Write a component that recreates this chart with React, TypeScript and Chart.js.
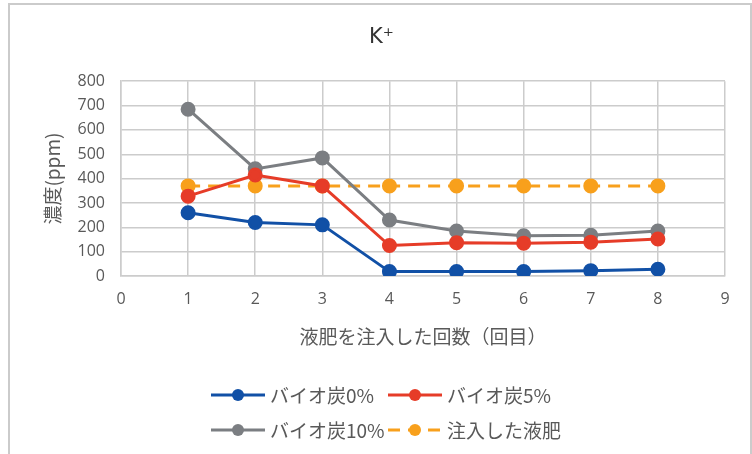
import React, { useEffect, useRef } from "react";
import { Chart, registerables } from "chart.js";

Chart.register(...registerables);

const xValues = [1, 2, 3, 4, 5, 6, 7, 8];
const biochar0 = [260, 220, 210, 18, 18, 18, 22, 28];
const biochar5 = [328, 415, 370, 125, 137, 135, 139, 152];
const biochar10 = [685, 440, 485, 230, 185, 165, 167, 185];
const injected = [370, 370, 370, 370, 370, 370, 370, 370];
const seriesNames = ["バイオ炭0%", "バイオ炭5%", "バイオ炭10%", "注入した液肥"];
const seriesColors = ["#1150a6", "#e63c28", "#7b7e82", "#f8a01c"];
const titleText = "K⁺";
const xTitle = "液肥を注入した回数（回目）";
const yTitle = "濃度(ppm)";

const CJK = "'Noto Sans CJK JP', 'Noto Sans', sans-serif";
const NUM = "'Open Sans', 'Noto Sans', sans-serif";

const toPoints = (ys: number[]) => ys.map((y, i) => ({ x: xValues[i], y }));

const framePlugin = {
  id: "frame",
  beforeDraw(chart: any) {
    const ctx = chart.ctx;
    ctx.save();
    ctx.fillStyle = "#ffffff";
    ctx.fillRect(0, 0, chart.width, chart.height);
    ctx.strokeStyle = "#cbcbcb";
    ctx.lineWidth = 2;
    ctx.strokeRect(9, 4, chart.width - 10, chart.height + 10);
    ctx.restore();
  },
};

const legendPlugin = {
  id: "customLegend",
  afterDraw(chart: any) {
    const ctx = chart.ctx;
    const cols = [211, 388];
    const rows = [395, 430];
    ctx.save();
    chart.data.datasets.forEach((ds: any, i: number) => {
      const x = cols[i % 2];
      const y = rows[Math.floor(i / 2)];
      const len = 54;
      ctx.strokeStyle = ds.borderColor;
      ctx.lineWidth = 3;
      ctx.setLineDash(ds.borderDash || []);
      ctx.beginPath();
      ctx.moveTo(x, y);
      ctx.lineTo(x + len, y);
      ctx.stroke();
      ctx.setLineDash([]);
      ctx.fillStyle = ds.backgroundColor;
      ctx.beginPath();
      ctx.arc(x + len / 2, y, 6, 0, Math.PI * 2);
      ctx.fill();
      ctx.fillStyle = "#595959";
      ctx.font = `19px ${CJK}`;
      ctx.textBaseline = "middle";
      ctx.textAlign = "left";
      ctx.fillText(ds.label, x + 59, y + 1);
    });
    ctx.restore();
  },
};

export default function App() {
  const ref = useRef<HTMLCanvasElement>(null);
  useEffect(() => {
    if (!ref.current) return;
    const mk = (i: number, ys: number[], dash?: number[]) => ({
      label: seriesNames[i],
      data: toPoints(ys),
      borderColor: seriesColors[i],
      backgroundColor: seriesColors[i],
      pointBackgroundColor: seriesColors[i],
      pointBorderColor: seriesColors[i],
      pointRadius: 6,
      borderWidth: 3,
      borderDash: dash,
      tension: 0,
      fill: false,
    });
    const chart = new Chart(ref.current, {
      type: "line",
      data: {
        datasets: [
          mk(0, biochar0),
          mk(1, biochar5),
          mk(2, biochar10),
          mk(3, injected, [12, 8]),
        ] as any,
      },
      options: {
        responsive: false,
        animation: false,
        devicePixelRatio: 1,
        layout: { padding: { left: 38, right: 27, top: 0, bottom: 100 } },
        plugins: {
          legend: { display: false },
          tooltip: { enabled: false },
          title: {
            display: true,
            text: titleText,
            color: "#333333",
            font: { family: "'DejaVu Sans', sans-serif", size: 21, weight: "normal" },
            padding: { top: 25, bottom: 31 },
          },
        },
        scales: {
          x: {
            type: "linear",
            min: 0,
            max: 9,
            ticks: {
              stepSize: 1,
              color: "#595959",
              font: { family: NUM, size: 16 },
              padding: 14,
            },
            grid: { color: "#cccccc", lineWidth: 1.5, drawTicks: false },
            border: { color: "#cccccc", width: 1.5 },
            title: {
              display: true,
              text: xTitle,
              color: "#595959",
              font: { family: CJK, size: 19 },
              padding: { top: 0, bottom: 6 },
            },
            afterFit: (s: any) => {
              s.height = 78;
            },
          },
          y: {
            min: 0,
            max: 800,
            ticks: {
              stepSize: 100,
              color: "#595959",
              font: { family: NUM, size: 16 },
              padding: 16,
            },
            grid: { color: "#cccccc", lineWidth: 1.5, drawTicks: false },
            border: { color: "#cccccc", width: 1.5 },
            title: {
              display: true,
              text: yTitle,
              color: "#595959",
              font: { family: CJK, size: 19 },
              padding: { top: 3, bottom: 0 },
            },
            afterFit: (s: any) => {
              s.width = 83;
            },
          },
        },
      } as any,
      plugins: [framePlugin, legendPlugin],
    });
    return () => chart.destroy();
  }, []);
  return (
    <div style={{ position: "absolute", left: 0, top: 0, width: 752, height: 454 }}>
      <canvas ref={ref} width={752} height={454} />
    </div>
  );
}
